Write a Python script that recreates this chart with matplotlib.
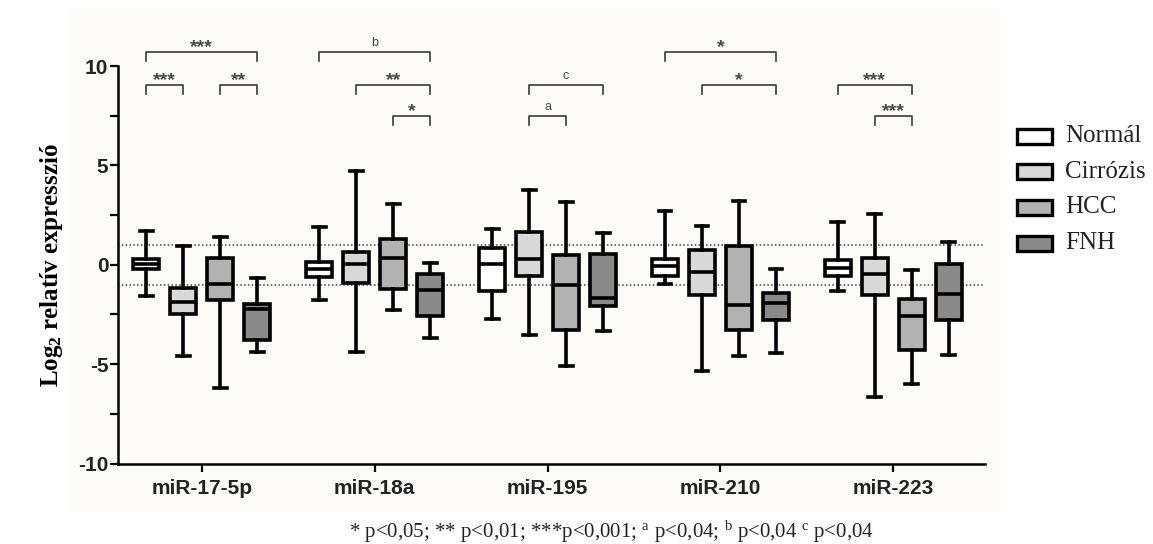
import matplotlib
matplotlib.use("Agg")
import matplotlib.pyplot as plt
from matplotlib.patches import Rectangle

plt.rcParams["mathtext.fontset"] = "custom"
plt.rcParams["mathtext.rm"] = "Liberation Serif"
plt.rcParams["mathtext.bf"] = "Liberation Serif:bold"
plt.rcParams["mathtext.it"] = "Liberation Serif:italic"
plt.rcParams["axes.unicode_minus"] = False

mirnas = ["miR-17-5p", "miR-18a", "miR-195", "miR-210", "miR-223"]
groups = ["Normál", "Cirrózis", "HCC", "FNH"]
colors = ["#ffffff", "#d9d9d9", "#b2b2b2", "#8a8a8a"]

# rows = miRNA, columns = group (Normál, Cirrózis, HCC, FNH)
whisker_low = [[-1.58, -4.58, -6.22, -4.38],
               [-1.78, -4.38, -2.28, -3.67],
               [-2.72, -3.55, -5.08, -3.33],
               [-0.95, -5.33, -4.58, -4.42],
               [-1.33, -6.63, -6.00, -4.55]]
q1 = [[-0.22, -2.47, -1.75, -3.78],
      [-0.62, -0.92, -1.22, -2.58],
      [-1.33, -0.58, -3.28, -2.08],
      [-0.55, -1.53, -3.28, -2.80],
      [-0.58, -1.53, -4.30, -2.78]]
median = [[0.03, -1.88, -0.95, -2.25],
          [-0.22, 0.03, 0.32, -1.28],
          [0.03, 0.28, -1.00, -1.67],
          [-0.05, -0.38, -2.00, -1.92],
          [-0.17, -0.45, -2.58, -1.47]]
q3 = [[0.28, -1.17, 0.32, -1.95],
      [0.13, 0.65, 1.32, -0.45],
      [0.83, 1.67, 0.50, 0.53],
      [0.28, 0.72, 0.95, -1.42],
      [0.25, 0.33, -1.72, 0.03]]
whisker_high = [[1.70, 0.95, 1.42, -0.67],
                [1.92, 4.72, 3.08, 0.08],
                [1.78, 3.75, 3.17, 1.58],
                [2.70, 1.95, 3.20, -0.22],
                [2.13, 2.53, -0.28, 1.13]]

# significance brackets: (miRNA index, group a, group b, level, label)
brackets = [(0, 0, 3, 10.7, "***"), (0, 0, 1, 9.05, "***"), (0, 2, 3, 9.05, "**"),
            (1, 0, 3, 10.7, "b"), (1, 1, 3, 9.05, "**"), (1, 2, 3, 7.5, "*"),
            (2, 1, 3, 9.05, "c"), (2, 1, 2, 7.5, "a"),
            (3, 0, 3, 10.7, "*"), (3, 1, 3, 9.05, "*"),
            (4, 0, 2, 9.05, "***"), (4, 1, 2, 7.5, "***")]

offsets = [-0.321, -0.107, 0.107, 0.321]
W, H = 1153, 544

fig = plt.figure(figsize=(W / 100, H / 100), dpi=100)
fig.patch.set_facecolor("white")
fig.add_artist(Rectangle((68 / W, 1 - 512 / H), (1000 - 68) / W, (512 - 8) / H,
                         transform=fig.transFigure, facecolor="#fdfbf7",
                         edgecolor="none", zorder=-10))

ax = fig.add_axes([118 / W, 1 - 463.5 / H, (985 - 118) / W, (463.5 - 66) / H])
ax.set_facecolor("none")

for g in range(len(groups)):
    stats = []
    for m in range(len(mirnas)):
        stats.append(dict(whislo=whisker_low[m][g], q1=q1[m][g], med=median[m][g],
                          q3=q3[m][g], whishi=whisker_high[m][g], fliers=[]))
    pos = [m + offsets[g] for m in range(len(mirnas))]
    ax.bxp(stats, positions=pos, widths=0.15, capwidths=0.075, patch_artist=True,
           showfliers=False, manage_ticks=False,
           boxprops=dict(facecolor=colors[g], edgecolor="black", linewidth=2.6),
           medianprops=dict(color="black", linewidth=2.6),
           whiskerprops=dict(color="black", linewidth=2.6),
           capprops=dict(color="black", linewidth=2.6))

for yv in (1, -1):
    ax.axhline(yv, color="#444444", linestyle=(0, (1, 1.5)), linewidth=1.1, zorder=0)

ax.set_xlim(-0.485, 4.53)
ax.set_ylim(-10, 10)
ax.set_yticks([-10, -5, 0, 5, 10])
ax.set_yticks([-7.5, -2.5, 2.5, 7.5], minor=True)
ax.set_xticks(range(len(mirnas)))
ax.set_xticklabels(mirnas)
for lab in ax.get_xticklabels() + ax.get_yticklabels():
    lab.set_fontfamily("Liberation Sans")
    lab.set_fontweight("bold")
    lab.set_fontsize(15)
    lab.set_color("#222222")
ax.tick_params(axis="both", which="both", direction="out", width=1.6, length=6)
ax.tick_params(axis="y", pad=1)
ax.tick_params(axis="x", pad=5)
for side in ("top", "right"):
    ax.spines[side].set_visible(False)
for side in ("left", "bottom"):
    ax.spines[side].set_linewidth(1.8)

ax.set_ylabel("Log$_\\mathbf{2}$ relatív expresszió", fontfamily="Liberation Serif",
              fontweight="bold", fontsize=18, labelpad=9)

for m, a, b, lvl, label in brackets:
    x1, x2 = m + offsets[a], m + offsets[b]
    ax.plot([x1, x1, x2, x2], [lvl - 0.45, lvl, lvl, lvl - 0.45], color="#3a3a3a",
            linewidth=1.2, clip_on=False)
    if "*" in label:
        ax.text((x1 + x2) / 2, lvl - 0.02, label, ha="center", va="baseline",
                fontsize=14, fontweight="bold", fontfamily="Liberation Sans",
                color="#4a4a4a", clip_on=False)
    else:
        ax.text((x1 + x2) / 2, lvl + 0.3, label, ha="center", va="baseline",
                fontsize=9, fontfamily="Liberation Sans", color="#444444",
                clip_on=False)

# legend
for i, (name, col) in enumerate(zip(groups, colors)):
    yc = 136 + i * 35.7
    fig.add_artist(Rectangle((1017 / W, 1 - (yc + 7.5) / H), 35 / W, 15 / H,
                             transform=fig.transFigure, facecolor=col,
                             edgecolor="black", linewidth=2.4))
    fig.text(1065 / W, 1 - yc / H, name, ha="left", va="center",
             fontfamily="Liberation Serif", fontsize=18, color="#222222")

fig.text(611 / W, 1 - 532 / H,
         "* p<0,05; ** p<0,01; ***p<0,001; $^\\mathrm{a}$ p<0,04; "
         "$^\\mathrm{b}$ p<0,04 $^\\mathrm{c}$ p<0,04",
         ha="center", va="center", fontfamily="Liberation Serif", fontsize=15,
         color="#222222")

fig.savefig("out.png", dpi=100)
